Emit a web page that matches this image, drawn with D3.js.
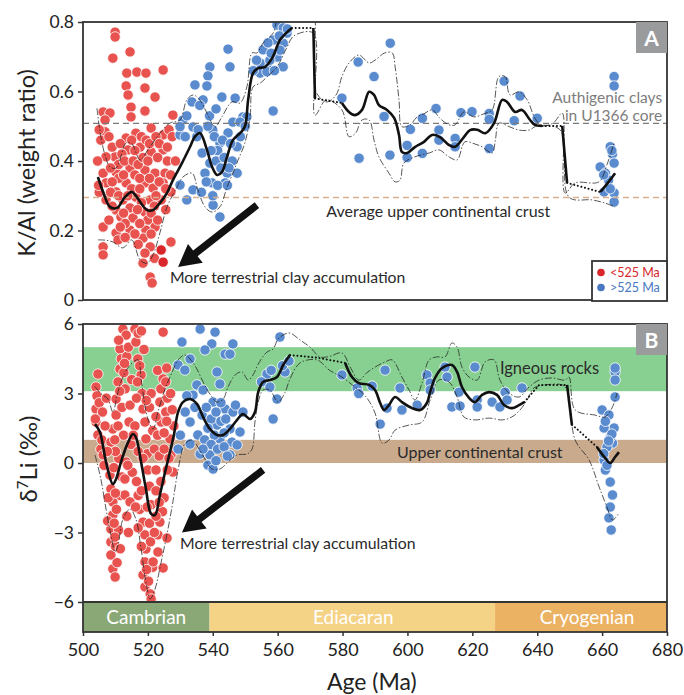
<!DOCTYPE html>
<html>
<head>
<meta charset="utf-8">
<script src="https://cdn.jsdelivr.net/npm/d3@7"></script>
<style>
  body { margin: 0; background: #fff; }
  svg text { font-family: Lato, "Noto Sans", sans-serif; }
</style>
</head>
<body>
<div id="chart"></div>
<script>
// ---- data ----
const ageTicks = [500, 520, 540, 560, 580, 600, 620, 640, 660, 680];
const kalTicks = [0, 0.2, 0.4, 0.6, 0.8];
const liTicks = [-6, -3, 0, 3, 6];

const periods = ["Cambrian", "Ediacaran", "Cryogenian"];
const periodBounds = [[500, 539], [539, 627], [627, 680]];

const kalRefValues = [0.508, 0.295];          // authigenic clays, average UCC
const liBands = [[3.1, 5.0], [0, 1.0]];       // igneous rocks, UCC

// K/Al, <525 Ma
const kalRed = [
  [509.9,0.771],[509.9,0.757],[509.2,0.696],[514.5,0.714],[513.5,0.653],[516.6,0.656],[519.4,0.653],[524.7,0.662],
  [513.3,0.616],[519.1,0.61],[513.9,0.59],[522.2,0.584],[506.2,0.541],[508.3,0.538],[514.8,0.555],[519.1,0.544],
  [514.8,0.527],[527.7,0.532],[506.8,0.518],[506.8,0.484],[513.3,0.466],[516.3,0.48],[521.0,0.495],[524.7,0.475],
  [509.9,0.412],[507.1,0.412],[513.9,0.432],[517.6,0.44],[521.0,0.426],[524.7,0.432],[506.2,0.365],[510.2,0.368],
  [514.5,0.38],[519.1,0.374],[522.2,0.365],[525.3,0.365],[507.1,0.337],[510.2,0.311],[513.3,0.337],[519.1,0.337],
  [521.6,0.322],[524.7,0.337],[527.1,0.311],[507.1,0.288],[512.3,0.288],[516.3,0.296],[520.7,0.288],[524.1,0.288],
  [510.2,0.259],[514.5,0.265],[519.1,0.253],[511.7,0.239],[515.4,0.236],[520.0,0.23],[522.2,0.21],[506.2,0.21],
  [510.2,0.193],[514.5,0.201],[519.4,0.201],[510.8,0.173],[506.2,0.153],[506.2,0.13],[518.5,0.178],[520.7,0.153],
  [527.1,0.167],[519.1,0.135],[518.5,0.106],[520.7,0.066],[521.3,0.049],
  [505.5,0.46],[508.0,0.47],[509.0,0.44],[511.5,0.45],[512.0,0.42],[515.0,0.46],[516.0,0.43],[518.0,0.47],
  [519.5,0.46],[520.5,0.45],[522.5,0.47],[523.5,0.45],[526.0,0.44],[526.5,0.49],[511.0,0.39],[512.8,0.40],
  [515.5,0.40],[517.0,0.39],[518.5,0.41],[520.0,0.40],[523.0,0.41],[526.0,0.40],[508.5,0.38],[511.0,0.35],
  [512.5,0.36],[516.0,0.36],[517.5,0.35],[520.5,0.35],[523.5,0.34],[509.0,0.34],[515.0,0.32],[517.5,0.32],
  [522.5,0.30],[525.5,0.32],[505.0,0.31],[508.5,0.31],[511.0,0.30],[513.8,0.30],[518.0,0.28],[522.0,0.27],
  [525.5,0.26],[509.0,0.27],[512.5,0.25],[516.8,0.26],[521.0,0.25],[508.0,0.23],[513.0,0.22],[517.5,0.22],
  [523.0,0.23],[511.5,0.21],[516.0,0.19],[521.0,0.19],[513.0,0.18],[517.0,0.16],[522.0,0.12],[504.5,0.40],
  [504.8,0.33],[505.0,0.49],[527.5,0.47],[528.5,0.40],[527.0,0.36]
];
const kalRedDark = [[524.1,0.144],[524.7,0.109]];

// K/Al, >525 Ma
const kalBlue = [
  [544.7,0.722],[539.1,0.671],[545.3,0.671],[538.5,0.645],[534.5,0.619],[538.2,0.616],[542.8,0.584],[546.9,0.581],
  [533.6,0.57],[537.0,0.576],[558.6,0.544],[530.8,0.518],[529.9,0.475],[533.9,0.498],[540.0,0.489],[544.7,0.481],
  [546.2,0.512],[549.3,0.527],[536.7,0.423],[542.2,0.452],[547.5,0.441],[539.1,0.394],[544.4,0.365],[547.5,0.365],
  [537.6,0.365],[539.8,0.337],[543.8,0.337],[529.9,0.331],[533.9,0.317],[532.0,0.288],[540.1,0.273],[542.2,0.239],
  [554.6,0.653],[556.7,0.671],[559.8,0.699],[561.7,0.739],[562.9,0.768],[559.8,0.791],[561.7,0.783],[558.6,0.748],
  [560.7,0.719],[554.6,0.682],[557.6,0.69],[556.7,0.657],[561.7,0.671],[550.5,0.527],[548.4,0.512],[529.9,0.499],
  [535.1,0.47],[538.5,0.50],[540.5,0.47],[541.5,0.43],[543.0,0.46],[545.5,0.45],[541.0,0.40],[543.5,0.41],
  [546.0,0.40],[539.5,0.43],[542.5,0.38],[545.0,0.38],[538.0,0.34],[541.5,0.33],[544.5,0.33],[536.5,0.31],
  [540.0,0.30],[539.0,0.53],[541.0,0.55],[536.0,0.56],[535.5,0.49],[532.0,0.53],[531.5,0.47],[548.5,0.47],
  [550.0,0.50],[552.5,0.66],[555.5,0.72],[558.0,0.71],[560.5,0.76],[557.0,0.74],[553.5,0.69],[563.0,0.78],[559.0,0.66],
  [579.8,0.581],[584.8,0.685],[594.7,0.739],[589.7,0.643],[592.8,0.528],[585.1,0.408],[594.6,0.417],[600.9,0.491],
  [604.6,0.523],[599.9,0.445],[599.9,0.41],[604.6,0.422],[608.8,0.551],[609.7,0.489],[609.7,0.46],[614.7,0.465],
  [614.7,0.441],[616.5,0.539],[619.9,0.542],[625.2,0.537],[625.2,0.52],[625.2,0.436],[629.8,0.63],[634.7,0.587],
  [632.9,0.516],[640.0,0.523],[663.7,0.643],[663.7,0.616],[662.5,0.441],[663.2,0.42],[663.7,0.394],[659.4,0.383],
  [661.0,0.365],[662.0,0.345],[660.6,0.311],[663.7,0.308],[663.7,0.282],[663.0,0.43],[660.5,0.36],[662.5,0.32]
];

// K/Al running mean: solid pieces, joined by dotted gaps
const kalMean = [
  [[504.6,0.354],[506.2,0.311],[508.3,0.268],[510.5,0.265],[512.9,0.296],[515.1,0.311],[516.6,0.296],[519.7,0.259],
   [521.6,0.259],[523.7,0.279],[525.9,0.308],[527.7,0.345],[530.5,0.394],[533.0,0.441],[534.5,0.47],[536.1,0.48],
   [538.2,0.432],[539.8,0.383],[541.3,0.36],[542.8,0.368],[544.4,0.412],[546.2,0.46],[548.4,0.48],[549.9,0.499],
   [550.9,0.576],[552.4,0.653],[554.0,0.667],[556.1,0.671],[558.3,0.696],[560.7,0.748],[562.9,0.771],[564.4,0.783]],
  [[571.0,0.783],[571.5,0.58]],
  [[579.8,0.567],[582.0,0.541],[583.8,0.532],[586.0,0.547],[588.2,0.599],[589.7,0.59],[591.2,0.561],[593.7,0.547],
   [595.9,0.524],[597.4,0.475],[598.3,0.426],[599.9,0.423],[602.3,0.44],[605.1,0.455],[607.6,0.475],[610.0,0.469],
   [612.8,0.446],[614.7,0.441],[617.4,0.469],[619.3,0.489],[621.5,0.49],[624.0,0.48],[626.7,0.509],[629.2,0.576],
   [630.7,0.57],[633.2,0.541],[635.3,0.547],[637.8,0.518],[639.3,0.504],[641.5,0.501]],
  [[647.7,0.501],[649.2,0.337]],
  [[659.4,0.311],[660.0,0.317],[662.0,0.34],[664.0,0.365]]
];
const kalUpper = [
  [504.3,0.552],[505.5,0.47],[507.0,0.41],[508.3,0.383],[510.2,0.38],[513.3,0.452],[515.0,0.45],[517.6,0.403],
  [520.0,0.432],[523.7,0.48],[526.8,0.509],[529.9,0.518],[532.0,0.576],[534.0,0.59],[536.0,0.576],[538.2,0.538],
  [540.7,0.498],[542.8,0.527],[545.9,0.57],[548.4,0.567],[550.5,0.613],[552.1,0.711],[553.6,0.711],[555.5,0.739],
  [558.6,0.768],[560.1,0.805],[564.7,0.815],[569.0,0.82],[571.0,0.826],[571.8,0.6],[575.0,0.57],[578.0,0.59],
  [579.8,0.643],[582.0,0.682],[585.0,0.705],[588.2,0.682],[590.0,0.69],[593.0,0.711],[595.3,0.711],[596.2,0.671],
  [597.4,0.576],[598.3,0.499],[600.8,0.504],[603.0,0.527],[605.1,0.536],[607.6,0.547],[610.0,0.523],[612.8,0.504],
  [614.7,0.504],[617.4,0.541],[620.5,0.527],[623.6,0.536],[626.1,0.547],[628.2,0.643],[630.1,0.643],[631.6,0.59],
  [634.4,0.599],[636.9,0.576],[639.3,0.523],[641.5,0.501],[645.0,0.51],[647.7,0.538],[648.6,0.308],[651.7,0.337],
  [659.0,0.34],[661.5,0.39],[663.7,0.452]
];
const kalLower = [
  [504.6,0.173],[507.0,0.172],[509.2,0.167],[512.3,0.15],[515.0,0.173],[517.6,0.115],[519.7,0.106],[521.6,0.13],
  [523.7,0.193],[525.9,0.268],[529.0,0.325],[530.8,0.354],[533.6,0.365],[535.4,0.317],[537.6,0.268],[539.8,0.253],
  [542.2,0.268],[544.4,0.325],[546.2,0.365],[547.8,0.403],[549.9,0.452],[551.5,0.527],[552.4,0.613],[554.6,0.624],
  [556.7,0.642],[559.8,0.671],[562.9,0.728],[565.0,0.76],[571.0,0.768],[571.5,0.532],[575.0,0.576],[579.8,0.547],
  [582.0,0.47],[584.0,0.48],[586.0,0.518],[588.2,0.518],[589.7,0.46],[591.2,0.412],[594.3,0.365],[596.2,0.34],
  [597.7,0.345],[598.9,0.394],[602.3,0.412],[606.7,0.423],[609.7,0.432],[612.8,0.412],[615.3,0.403],[617.7,0.455],
  [620.5,0.45],[623.0,0.441],[626.1,0.423],[627.1,0.46],[628.2,0.509],[631.3,0.499],[634.4,0.489],[637.5,0.489],
  [640.0,0.501],[647.0,0.49],[649.8,0.296],[656.9,0.288],[660.9,0.279],[664.0,0.268]
];

// d7Li, <525 Ma
const liRed = [
  [504.6,3.84],[504.0,3.28],[504.3,2.9],[504.0,2.33],[504.0,1.77],[504.6,1.21],[505.5,0.6],[506.2,0.35],[505.0,2.6],
  [505.8,1.0],[506.5,-0.1],[507.2,2.8],
  [512.3,5.78],[513.3,5.52],[511.4,4.92],[511.8,4.5],[511.4,4.06],[510.8,3.5],[510.2,2.76],[510.2,2.07],[509.2,1.47],
  [508.6,0.9],[508.3,-0.52],[508.6,-1.12],[509.2,-1.68],[509.2,-2.24],[508.6,-2.85],[508.6,-3.41],[508.6,-3.97],
  [509.2,-4.57],[509.9,-4.92],[510.5,-4.3],[510.0,-3.6],[511.0,-2.9],[510.3,-2.0],[511.5,-1.4],[512.0,-0.6],[511.0,0.2],
  [512.5,1.2],[512.0,2.4],[513.0,3.2],[512.6,3.9],[513.5,4.6],[514.0,5.0],[514.2,1.77],[513.3,0.04],[512.9,-0.69],
  [512.9,-1.38],[514.5,-1.68],[513.5,-2.3],[514.0,-3.0],[511.5,-3.7],[507.6,-2.5],[507.8,-1.5],[510.0,0.5],[514.5,2.5],
  [515.0,3.6],[515.2,-0.4],[514.8,0.8],
  [516.0,5.78],[516.3,5.22],[516.9,4.49],[517.9,3.8],[518.2,3.0],[518.5,2.33],[519.1,1.77],[519.4,1.04],[519.8,0.4],
  [518.5,-2.55],[519.1,-3.1],[519.4,-3.71],[519.1,-4.27],[518.5,-4.83],[519.1,-5.35],[520.7,-5.65],[521.0,-5.87],
  [517.0,5.6],[518.0,5.7],[517.5,4.2],[516.5,-0.8],[517.0,-1.4],[517.5,-2.0],[520.0,-0.3],[520.5,-1.0],[521.0,-1.8],
  [520.5,-2.6],[520.8,-3.4],[521.5,-4.5],[517.0,-2.8],[518.0,-3.6],[520.5,2.4],[521.0,3.0],[521.5,1.4],[522.0,0.6],
  [522.5,-0.3],[516.0,1.6],[516.5,2.8],[517.0,0.5],
  [524.7,5.65],[524.7,3.63],[523.7,2.63],[524.1,1.77],[526.8,1.04],[527.1,0.35],[527.7,-0.39],[523.7,-2.55],[523.1,-3.1],
  [523.1,-3.84],[521.6,-4.27],[524.7,-4.53],[525.9,-3.24],[524.0,3.2],[525.5,3.5],[526.0,2.8],[523.0,1.2],[525.0,1.3],
  [525.5,2.2],[522.5,2.0],[523.5,0.3],[525.0,0.6],[524.0,-0.8],[525.0,-1.5],[524.5,-2.1],[522.5,-1.2],[528.0,1.6],[527.5,2.3],
  [511.0,5.3],[512.8,4.3],[511.3,3.1],[510.8,1.6],[509.8,1.0],[509.5,-0.2],[510.0,-1.3],[509.6,-2.6],[509.8,-3.2],
  [513.8,-0.1],[515.5,1.2],[516.8,3.5],[518.8,4.9],[519.5,2.7],[518.5,0.2],[516.2,-1.9],[518.0,-1.2],[519.8,-1.9],
  [519.6,-4.6],[520.2,-5.1],[522.0,-3.0],[522.5,-2.3],[523.5,-1.7],[526.0,-0.3],[526.5,0.2],[525.8,1.8],[527.0,3.0],
  [523.0,4.0],[525.8,4.1],[506.8,1.6],[506.0,2.2],[503.8,1.9],[507.5,0.5]
];

// d7Li, >525 Ma
const liBlue = [
  [536.1,5.78],[540.7,5.65],[530.5,5.22],[539.7,5.14],[546.2,5.14],[537.6,4.88],[543.8,4.7],[545.3,4.7],[560.7,5.44],
  [533.0,4.49],[529.3,4.23],[531.4,4.01],[541.3,3.93],[542.2,3.41],[535.1,3.37],[537.0,3.15],[533.9,2.93],[556.7,3.84],
  [557.6,3.28],[559.8,2.76],[558.6,1.9],[562.3,3.93],[540.1,2.63],[543.8,2.33],[546.2,2.2],[536.7,2.07],[533.0,1.77],
  [541.3,1.64],[545.3,1.47],[549.3,2.2],[548.4,1.34],[535.4,1.21],[542.2,1.04],[545.9,0.9],[547.5,0.78],[533.0,0.82],
  [536.1,0.39],[539.1,0.35],[545.3,0.35],[538.5,-0.09],[540.1,-0.26],[529.3,0.6],
  [538.0,2.4],[539.5,1.9],[541.0,2.2],[542.5,1.8],[544.0,1.9],[538.5,1.5],[540.5,1.2],[543.5,1.3],[537.5,1.0],
  [539.5,0.8],[541.5,0.6],[543.5,0.7],[544.5,0.3],[541.0,0.1],[537.0,0.6],[542.5,2.6],[547.0,2.5],[534.5,2.4],
  [531.5,2.2],[532.0,2.9],[530.0,1.2],[555.0,3.5],[561.5,4.2],[563.5,4.4],[558.0,4.0],
  [579.8,3.8],[584.5,3.24],[585.0,3.0],[589.1,3.32],[593.1,4.01],[591.6,1.68],[593.7,2.37],[597.7,3.24],[598.3,2.29],
  [603.0,2.5],[606.0,3.8],[607.0,3.45],[607.0,3.15],[611.6,4.14],[612.2,3.71],[613.7,2.42],[616.2,2.46],[615.9,3.06],
  [620.8,4.14],[621.5,2.72],[621.5,2.42],[626.1,2.63],[628.5,2.42],[630.1,3.06],[630.7,2.72],[635.3,3.24],
  [664.0,3.93],[664.0,3.58],[664.0,4.1],[664.0,2.85],[660.0,2.29],[662.1,2.07],[663.7,1.51],[660.6,1.51],[663.2,0.86],
  [661.5,0.69],[660.6,0.13],[661.0,-0.3],[662.5,-0.82],[663.2,-1.38],[662.5,-1.9],[662.1,-2.37],[662.8,-2.89],
  [662.5,1.1],[661.0,1.8],[663.0,1.25],[660.5,0.4],[662.0,0.95],[661.5,-0.1]
];

const liMean = [
  [[503.7,1.68],[505.2,1.34],[507.1,0.04],[509.2,-0.91],[510.2,-0.69],[511.7,0.04],[513.9,0.9],[515.4,1.25],[516.3,1.12],
   [517.9,0.04],[519.4,-1.12],[521.0,-2.2],[522.2,-2.24],[523.7,-1.38],[525.3,-0.39],[526.8,0.47],[528.0,1.2],
   [529.3,2.2],[530.8,2.63],[533.0,2.76],[535.1,2.55],[537.0,1.99],[539.1,1.47],[541.3,1.21],[543.2,1.21],[545.3,1.47],
   [547.5,1.86],[549.3,2.11],[551.5,1.9],[553.0,2.2],[554.0,3.06],[555.5,3.5],[557.6,3.58],[559.8,3.71],[561.7,4.23],[563.8,4.66]],
  [[580.8,4.32],[582.9,3.71],[585.0,3.45],[588.2,3.37],[590.0,3.15],[591.6,2.59],[592.8,2.29],[594.3,2.5],[596.2,2.85],
   [598.3,2.63],[601.4,2.37],[603.9,2.29],[606.0,2.59],[607.0,3.06],[608.5,3.67],[610.7,4.1],[613.7,4.23],[615.3,3.93],
   [616.8,3.28],[619.0,2.81],[620.8,2.63],[623.0,2.94],[625.2,3.06],[627.6,2.94],[629.8,2.5],[632.2,2.37],[634.4,2.5],[636.0,2.63]],
  [[649.2,3.37],[650.7,1.64]],
  [[658.4,0.69],[660.9,0.22],[662.5,0.0],[664.0,0.26],[665.2,0.47]]
];
const liMeanGapVia = [[[572, 4.55]], [[640.6, 3.37]], [[652, 1.5]]];
const liUpper = [
  [503.7,3.3],[505.5,3.0],[507.7,2.76],[509.2,2.2],[510.5,2.9],[511.7,3.5],[514.5,4.23],[517.0,4.45],[517.9,3.63],
  [520.0,1.9],[521.6,1.47],[523.1,2.2],[525.3,3.2],[527.1,3.8],[529.3,4.45],[531.4,4.66],[533.0,4.49],[535.1,4.06],
  [537.0,3.5],[539.1,2.98],[541.3,2.63],[543.2,2.76],[544.7,3.28],[546.9,3.8],[549.0,3.93],[550.9,3.58],[552.4,3.8],
  [554.0,4.27],[556.7,4.79],[558.6,4.92],[560.1,5.35],[562.3,5.57],[563.8,5.61],[567.0,5.3],[570.0,5.0],[573.0,4.58],
  [576.0,4.6],[579.8,4.75],[582.5,4.1],[585.0,3.58],[587.5,3.9],[590.0,4.14],[593.1,4.36],[595.3,4.45],[598.3,3.71],
  [600.5,3.15],[602.3,2.72],[604.5,3.45],[606.7,4.45],[609.1,4.58],[611.6,4.58],[613.7,5.18],[615.3,5.0],[616.8,4.14],
  [619.0,3.71],[621.5,3.58],[623.9,4.36],[626.7,4.45],[628.5,3.58],[631.3,3.02],[634.4,2.85],[637.5,3.28],[640.6,3.58],
  [644.6,3.67],[648.6,3.58],[649.8,3.71],[651.7,2.29],[657.8,2.07],[660.9,1.99],[663.2,2.42],[664.6,3.02]
];
const liLower = [
  [503.7,0.35],[505.5,-0.69],[507.1,-1.99],[508.6,-3.1],[509.9,-3.84],[510.8,-3.54],[512.3,-2.42],[514.5,-1.99],
  [516.3,-2.42],[517.9,-3.71],[519.4,-5.14],[520.7,-5.87],[522.2,-5.44],[524.1,-4.27],[526.2,-2.85],[527.7,-1.68],
  [529.3,-0.3],[531.4,0.82],[533.6,0.99],[535.4,0.69],[537.6,0.17],[539.8,-0.26],[542.2,-0.26],[544.7,0.04],
  [547.5,0.35],[550.6,0.39],[552.1,0.6],[553.0,1.77],[554.0,2.63],[555.5,3.15],[557.6,3.15],[560.1,2.63],[562.3,3.06],
  [563.8,3.63],[566.9,4.32],[572.1,4.45],[576.0,4.0],[579.8,3.71],[583.8,3.28],[587.0,2.9],[590.0,2.16],[592.2,0.86],
  [594.3,0.99],[596.2,1.42],[600.5,1.64],[604.5,1.77],[607.0,2.72],[609.7,3.58],[612.8,3.5],[615.3,2.85],[617.4,1.99],
  [620.8,1.86],[625.2,1.94],[629.2,1.86],[632.2,1.99],[634.7,2.29],[636.9,2.72],[639.0,3.24],[642.4,3.37],[647.7,3.37],
  [649.2,3.15],[651.7,0.99],[656.0,0.13],[659.1,-1.04],[661.5,-1.9],[663.2,-2.46],[665.2,-2.16]
];

// ---- layout ----
const width = 684, height = 695;
const left = 83, right = 667;
const x = d3.scaleLinear().domain([500, 680]).range([left, right]);
const yA = d3.scaleLinear().domain([0, 0.8]).range([300, 22]);
const yB = d3.scaleLinear().domain([-6, 6]).range([602, 324]);
const barBottom = 632;

const red = "#e8534f", redDark = "#d8262b", blue = "#5a8bcf";

const svg = d3.select("#chart").append("svg")
    .attr("width", width)
    .attr("height", height);

const defs = svg.append("defs");
defs.append("clipPath").attr("id", "clipA").append("rect")
    .attr("x", left).attr("y", yA(0.8)).attr("width", right - left).attr("height", yA(0) - yA(0.8));
defs.append("clipPath").attr("id", "clipB").append("rect")
    .attr("x", left).attr("y", yB(6)).attr("width", right - left).attr("height", yB(-6) - yB(6));

function drawPoints(g, data, y, fill) {
    g.append("g")
        .selectAll("circle")
        .data(data)
        .join("circle")
        .attr("cx", d => x(d[0]))
        .attr("cy", d => y(d[1]))
        .attr("r", 5.2)
        .attr("fill", fill)
        .attr("stroke", "#fff")
        .attr("stroke-width", 0.8);
}

function drawTrend(g, mean, upper, lower, y, gapVia) {
    const smooth = d3.line().x(d => x(d[0])).y(d => y(d[1])).curve(d3.curveCatmullRom.alpha(0.5));
    [upper, lower].forEach(ci => {
        g.append("path")
            .attr("d", smooth(ci))
            .attr("fill", "none")
            .attr("stroke", "#222")
            .attr("stroke-width", 0.75)
            .attr("stroke-dasharray", "7,2,1.5,2");
    });
    // dotted joins between the solid pieces
    for (let i = 0; i < mean.length - 1; i++) {
        const a = mean[i][mean[i].length - 1], b = mean[i + 1][0];
        const pts = [a].concat(gapVia ? gapVia[i] : []).concat([b]);
        g.append("path")
            .attr("d", d3.line().x(d => x(d[0])).y(d => y(d[1]))(pts))
            .attr("fill", "none")
            .attr("stroke", "#111")
            .attr("stroke-width", 2)
            .attr("stroke-linecap", "round")
            .attr("stroke-dasharray", "0.1,3.6");
    }
    mean.forEach(seg => {
        g.append("path")
            .attr("d", smooth(seg))
            .attr("fill", "none")
            .attr("stroke", "#111")
            .attr("stroke-width", 2.6);
    });
}

function drawArrow(g, tail, tip) {
    const dx = tip[0] - tail[0], dy = tip[1] - tail[1];
    const len = Math.hypot(dx, dy), ux = dx / len, uy = dy / len;
    const nx = -uy, ny = ux;
    const shaft = 3.6, head = 12, headLen = 22;
    const bx = tip[0] - ux * headLen, by = tip[1] - uy * headLen;
    const pts = [
        [tail[0] + nx * shaft, tail[1] + ny * shaft],
        [bx + nx * shaft, by + ny * shaft],
        [bx + nx * head, by + ny * head],
        tip,
        [bx - nx * head, by - ny * head],
        [bx - nx * shaft, by - ny * shaft],
        [tail[0] - nx * shaft, tail[1] - ny * shaft]
    ];
    g.append("polygon").attr("points", pts.map(p => p.join(",")).join(" ")).attr("fill", "#111");
}

function panelLetter(label, top) {
    svg.append("rect").attr("x", right - 31).attr("y", top).attr("width", 31).attr("height", 31).attr("fill", "#9a9b9d");
    svg.append("text").attr("x", right - 15.5).attr("y", top + 23.5)
        .attr("text-anchor", "middle").attr("fill", "#fff")
        .attr("font-size", 21).attr("font-weight", "bold").text(label);
}

// ---- panel A ----
const gA = svg.append("g");
const plotA = gA.append("g").attr("clip-path", "url(#clipA)");
drawPoints(plotA, kalRed, yA, red);
drawPoints(plotA, kalRedDark, yA, redDark);
drawPoints(plotA, kalBlue, yA, blue);

plotA.selectAll("line.ref")
    .data(kalRefValues)
    .join("line")
    .attr("x1", left).attr("x2", right)
    .attr("y1", d => yA(d)).attr("y2", d => yA(d))
    .attr("stroke", (d, i) => i === 0 ? "#7a7a7a" : "#d9b08e")
    .attr("stroke-width", 1.3)
    .attr("stroke-dasharray", "6,4");

drawTrend(plotA, kalMean, kalUpper, kalLower, yA);
drawArrow(gA, [x(553.6), yA(0.273)], [x(529.3), yA(0.095)]);

const authi = gA.append("text").attr("text-anchor", "end")
    .attr("font-size", 15.5).attr("fill", "#7d7d7d");
authi.append("tspan").attr("x", x(678.5)).attr("y", yA(0.567)).text("Authigenic clays");
authi.append("tspan").attr("x", x(678.5)).attr("y", yA(0.516)).text("in U1366 core");
gA.append("text").attr("x", x(609.5)).attr("y", yA(0.239)).attr("text-anchor", "middle")
    .attr("font-size", 16).attr("fill", "#2a2a2a").text("Average upper continental crust");
gA.append("text").attr("x", x(526.8)).attr("y", yA(0.05))
    .attr("font-size", 15.8).attr("fill", "#2a2a2a").text("More terrestrial clay accumulation");

gA.append("rect")
    .attr("x", left).attr("y", yA(0.8)).attr("width", right - left).attr("height", yA(0) - yA(0.8))
    .attr("fill", "none").attr("stroke", "#333").attr("stroke-width", 1.8);

const axisA = gA.append("g").attr("transform", `translate(${left},0)`)
    .call(d3.axisLeft(yA).tickValues(kalTicks).tickSize(5).tickPadding(4).tickFormat(d => d === 0 ? "0" : d3.format(".1f")(d)));
axisA.select(".domain").remove();
axisA.selectAll(".tick line").attr("stroke", "#333").attr("stroke-width", 1.5);
axisA.selectAll("text").attr("font-size", 17.5).attr("fill", "#222").attr("font-family", "Lato, 'Noto Sans', sans-serif");

panelLetter("A", yA(0.8));

// legend
const lg = gA.append("g");
lg.append("rect").attr("x", 592).attr("y", 261).attr("width", 75).attr("height", 40)
    .attr("fill", "#fff").attr("stroke", "#333").attr("stroke-width", 1.8);
[["<525 Ma", redDark, 277], [">525 Ma", "#4a78c0", 292]].forEach(([t, c, yy]) => {
    lg.append("circle").attr("cx", 601).attr("cy", yy - 4.5).attr("r", 3.8).attr("fill", c);
    lg.append("text").attr("x", 610).attr("y", yy).attr("font-size", 12.5).attr("fill", c).text(t);
});

// ---- panel B ----
const gB = svg.append("g");
const plotB = gB.append("g").attr("clip-path", "url(#clipB)");
plotB.selectAll("rect.band")
    .data(liBands)
    .join("rect")
    .attr("x", left).attr("width", right - left)
    .attr("y", d => yB(d[1])).attr("height", d => yB(d[0]) - yB(d[1]))
    .attr("fill", (d, i) => i === 0 ? "#88d091" : "#c9aa8d");

drawPoints(plotB, liRed, yB, red);
drawPoints(plotB, liBlue, yB, blue);
drawTrend(plotB, liMean, liUpper, liLower, yB, liMeanGapVia);
drawArrow(gB, [x(555.5), yB(-0.3)], [x(530.5), yB(-3.0)]);

gB.append("text").attr("x", x(628.5)).attr("y", yB(3.84))
    .attr("font-size", 16.5).attr("fill", "#2a2a2a").text("Igneous rocks");
gB.append("text").attr("x", x(596.8)).attr("y", yB(0.2))
    .attr("font-size", 16).attr("fill", "#2a2a2a").text("Upper continental crust");
gB.append("text").attr("x", x(529.9)).attr("y", yB(-3.71))
    .attr("font-size", 15.8).attr("fill", "#2a2a2a").text("More terrestrial clay accumulation");

// geological periods
const periodColors = ["#8aa876", "#f4d286", "#ecb264"];
const periodNudge = [0, 1, 6];
gB.selectAll("rect.period")
    .data(periodBounds)
    .join("rect")
    .attr("x", d => x(d[0])).attr("width", d => x(d[1]) - x(d[0]))
    .attr("y", yB(-6)).attr("height", barBottom - yB(-6))
    .attr("fill", (d, i) => periodColors[i]);
gB.selectAll("text.period")
    .data(periodBounds)
    .join("text")
    .attr("x", (d, i) => (x(d[0]) + x(d[1])) / 2 + periodNudge[i])
    .attr("y", barBottom - 8)
    .attr("text-anchor", "middle")
    .attr("font-size", 19).attr("fill", "#fff")
    .text((d, i) => periods[i]);

gB.append("rect")
    .attr("x", left).attr("y", yB(6)).attr("width", right - left).attr("height", barBottom - yB(6))
    .attr("fill", "none").attr("stroke", "#333").attr("stroke-width", 1.8);
gB.append("line").attr("x1", left).attr("x2", right).attr("y1", yB(-6)).attr("y2", yB(-6))
    .attr("stroke", "#333").attr("stroke-width", 1.8);

const axisB = gB.append("g").attr("transform", `translate(${left},0)`)
    .call(d3.axisLeft(yB).tickValues(liTicks).tickSize(5).tickPadding(4).tickFormat(d => d < 0 ? "\u2212" + Math.abs(d) : String(d)));
axisB.select(".domain").remove();
axisB.selectAll(".tick line").attr("stroke", "#333").attr("stroke-width", 1.5);
axisB.selectAll("text").attr("font-size", 17.5).attr("fill", "#222").attr("font-family", "Lato, 'Noto Sans', sans-serif");

const axisX = gB.append("g").attr("transform", `translate(0,${barBottom})`)
    .call(d3.axisBottom(x).tickValues(ageTicks).tickSize(4).tickPadding(7).tickFormat(d3.format("d")));
axisX.select(".domain").remove();
axisX.selectAll(".tick line").attr("stroke", "#333").attr("stroke-width", 1.5);
axisX.selectAll("text").attr("font-size", 18).attr("fill", "#222").attr("font-family", "Lato, 'Noto Sans', sans-serif");

panelLetter("B", yB(6));

// ---- axis titles ----
svg.append("text")
    .attr("transform", "translate(35,163) rotate(-90)")
    .attr("text-anchor", "middle").attr("font-size", 23.5).attr("fill", "#222")
    .text("K/Al (weight ratio)");
const liTitle = svg.append("text")
    .attr("transform", "translate(37,459) rotate(-90)")
    .attr("text-anchor", "middle").attr("font-size", 24).attr("fill", "#222");
liTitle.append("tspan").text("\u03b4");
liTitle.append("tspan").attr("font-size", 15).attr("dy", -9).text("7");
liTitle.append("tspan").attr("dy", 9).text("Li (\u2030)");
svg.append("text")
    .attr("x", x(589)).attr("y", 690)
    .attr("text-anchor", "middle").attr("font-size", 23).attr("fill", "#222")
    .text("Age (Ma)");
</script>
</body>
</html>
